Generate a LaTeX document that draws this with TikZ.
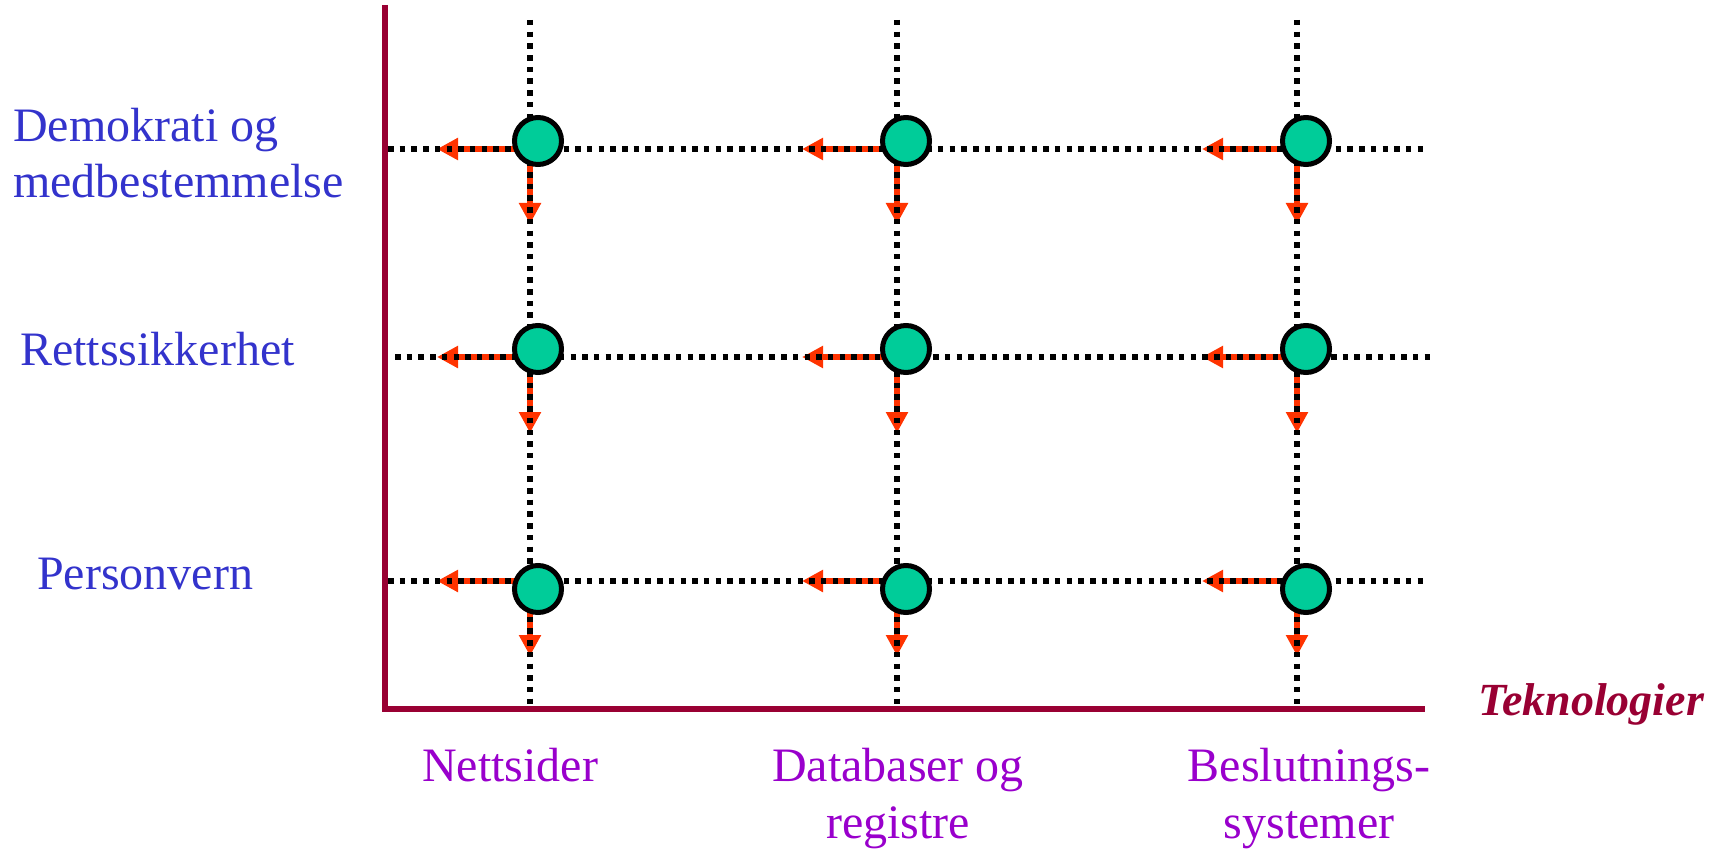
\documentclass[tikz,border=0pt]{standalone}
\usepackage{fontspec}
\setmainfont{Liberation Serif}
\usetikzlibrary{arrows.meta}
\definecolor{axiscol}{HTML}{990033}
\definecolor{bluelab}{HTML}{3333CC}
\definecolor{purplab}{HTML}{9900CC}
\definecolor{knotfill}{HTML}{00CC99}
\definecolor{arrred}{HTML}{FF3300}
\begin{document}
\begin{tikzpicture}[x=1pt,y=-1pt,
  dotline/.style={line width=6pt, dash pattern=on 5.5pt off 6.2pt, black},
  axisline/.style={line width=6.5pt, axiscol, line join=miter},
  redarrow/.style={line width=5.5pt, arrred, -{Triangle[length=21pt,width=21pt]}},
  knot/.style={circle, draw=black, line width=5pt, fill=knotfill, minimum size=47pt, inner sep=0pt},
  ylab/.style={font=\fontsize{48}{56.5}\selectfont, text=bluelab, align=left, anchor=base west, inner sep=0pt},
  xlab/.style={font=\fontsize{48}{57}\selectfont, text=purplab, align=center, anchor=base, inner sep=0pt},
  axislab/.style={font=\fontsize{46}{55}\selectfont\bfseries\itshape, text=axiscol, anchor=base west, inner sep=0pt},
]
\useasboundingbox (0,0) rectangle (1729,850);

% axes
\coordinate (atop) at (385,5);
\coordinate (acorner) at (385,709);
\coordinate (aend) at (1425,709);
\draw[axisline] (atop) -- (acorner) -- (aend);

% red arrows
\foreach \c/\x/\tx in {1/530/437,2/897/802,3/1297/1202}{
  \foreach \r/\y/\ty in {1/149/224,2/357/433,3/581/656}{
    \coordinate (p\c\r) at (\x,\y);
    \coordinate (h\c\r) at (\tx,\y);
    \coordinate (d\c\r) at (\x,\ty);
    \draw[redarrow] (p\c\r) -- (h\c\r);
    \draw[redarrow] (p\c\r) -- (d\c\r);
  }
}

% dotted grid
\foreach \c/\x in {1/530,2/897,3/1297}{
  \coordinate (vt\c) at (\x,20);
  \coordinate (vb\c) at (\x,706);
  \draw[dotline] (vt\c) -- (vb\c);
}
\foreach \r/\y/\xa/\xb in {1/149/388/1425,2/357/395/1433,3/581/388/1425}{
  \coordinate (hs\r) at (\xa,\y);
  \coordinate (he\r) at (\xb,\y);
  \draw[dotline] (hs\r) -- (he\r);
}

% knots
\foreach \c/\x in {1/538,2/906,3/1306}{
  \foreach \r/\y in {1/141,2/349,3/589}{
    \node[knot] (k\c\r) at (\x,\y) {};
  }
}

% labels
\node[ylab] (l1) at (13,198) {Demokrati og\\medbestemmelse};
\node[ylab] (l2) at (20,365) {Rettssikkerhet};
\node[ylab] (l3) at (37,589) {Personvern};
\node[xlab] (b1) at (510,781) {Nettsider};
\node[xlab] (b2) at (898,838) {Databaser og\\registre};
\node[xlab] (b3) at (1309,838) {Beslutnings-\\systemer};
\node[axislab] (ax) at (1478,715) {Teknologier};
\end{tikzpicture}
\end{document}
